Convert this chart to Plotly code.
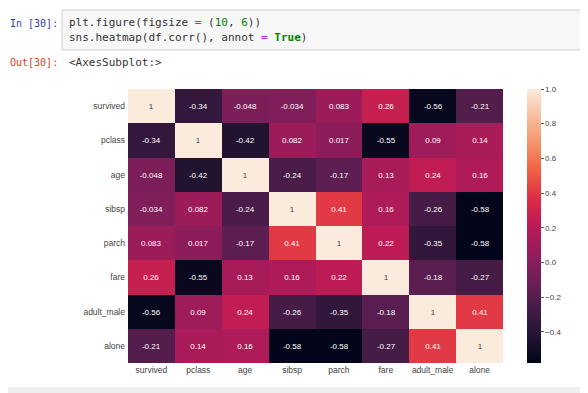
import plotly.graph_objects as go

labels = ["survived", "pclass", "age", "sibsp", "parch", "fare", "adult_male", "alone"]
corr = [
    [1, -0.34, -0.048, -0.034, 0.083, 0.26, -0.56, -0.21],
    [-0.34, 1, -0.42, 0.082, 0.017, -0.55, 0.09, 0.14],
    [-0.048, -0.42, 1, -0.24, -0.17, 0.13, 0.24, 0.16],
    [-0.034, 0.082, -0.24, 1, 0.41, 0.16, -0.26, -0.58],
    [0.083, 0.017, -0.17, 0.41, 1, 0.22, -0.35, -0.58],
    [0.26, -0.55, 0.13, 0.16, 0.22, 1, -0.18, -0.27],
    [-0.56, 0.09, 0.24, -0.26, -0.35, -0.18, 1, 0.41],
    [-0.21, 0.14, 0.16, -0.58, -0.58, -0.27, 0.41, 1],
]
cbar_ticks = [-0.4, -0.2, 0.0, 0.2, 0.4, 0.6, 0.8, 1.0]

rocket = [
    [0.0, "#03051A"], [0.1, "#221331"], [0.2, "#451C47"], [0.3, "#6E1F57"],
    [0.4, "#951C5B"], [0.5, "#BB1A57"], [0.6, "#DD2C45"], [0.7, "#F06043"],
    [0.8, "#F5936A"], [0.9, "#F6BF9E"], [1.0, "#FAEBDD"],
]

# page body has an 8px margin; figure fills the rest of the window
OFF = 8
W, H = 580, 385
def px(x): return (x - OFF) / W
def py(y): return 1 - (y - OFF) / H

text = [[format(v, ".2g") for v in row] for row in corr]

fig = go.Figure(go.Heatmap(
    z=corr, x=labels, y=labels, text=text, texttemplate="%{text}",
    textfont=dict(family="Liberation Sans, Arial", size=8),
    colorscale=rocket, zmin=-0.58, zmax=1.0, xgap=0, ygap=0,
    colorbar=dict(
        x=px(527), xanchor="left", xpad=0, y=py(89), yanchor="top", ypad=0,
        lenmode="pixels", len=274, thickness=14, outlinewidth=0,
        tickvals=cbar_ticks, ticktext=[f"{t:.1f}".replace("-", "\u2212") for t in cbar_ticks],
        ticks="outside", ticklen=3, tickcolor="#555", tickwidth=0.8,
        tickfont=dict(family="Liberation Sans, Arial", size=8, color="#444"),
    ),
))

fig.update_layout(
    width=W, height=H, margin=dict(l=0, r=0, t=0, b=0, autoexpand=False),
    paper_bgcolor="white", plot_bgcolor="white",
    xaxis=dict(domain=[px(128), px(503)], showgrid=False, zeroline=False, ticks="", automargin=False,
               tickfont=dict(family="Liberation Sans, Arial", size=8.5, color="#444"), tickangle=0),
    yaxis=dict(domain=[py(363), py(89)], autorange="reversed", showgrid=False, zeroline=False,
               ticks="", automargin=False, ticklabelstandoff=2,
               tickfont=dict(family="Liberation Sans, Arial", size=8.5, color="#444")),
    showlegend=False,
)

# notebook chrome
fig.add_shape(type="rect", xref="paper", yref="paper", x0=px(62), x1=1.02, y0=py(50), y1=py(10),
              fillcolor="#f7f7f7", line=dict(color="#cfcfcf", width=1), layer="below")
fig.add_shape(type="rect", xref="paper", yref="paper", x0=0, x1=1, y0=0, y1=py(387),
              fillcolor="#eeeeee", line=dict(width=0), layer="below")

mono = "DejaVu Sans Mono, Liberation Mono, monospace"
code = [
    (67, 22, 'plt.figure(figsize <span style="color:#AA22FF">=</span> (<span style="color:#008000">10</span>, <span style="color:#008000">6</span>))'),
    (67, 37, 'sns.heatmap(df.corr(), annot <span style="color:#AA22FF">=</span> <b><span style="color:#008000">True</span></b>)'),
    (67, 63, '&lt;AxesSubplot:&gt;'),
]
for x, y, t in code:
    fig.add_annotation(x=px(x), y=py(y), xref="paper", yref="paper", text=t, showarrow=False,
                       xanchor="left", yanchor="middle", font=dict(family=mono, size=11, color="#333"))
prompts = [
    (60, 23, '<span style="color:#303F9F">In [30]:</span>'),
    (60, 63, '<span style="color:#D84315">Out[30]:</span>'),
]
for x, y, t in prompts:
    fig.add_annotation(x=px(x), y=py(y), xref="paper", yref="paper", text=t, showarrow=False,
                       xanchor="right", yanchor="middle", font=dict(family=mono, size=10, color="#333"))

fig.write_html("out.html")
